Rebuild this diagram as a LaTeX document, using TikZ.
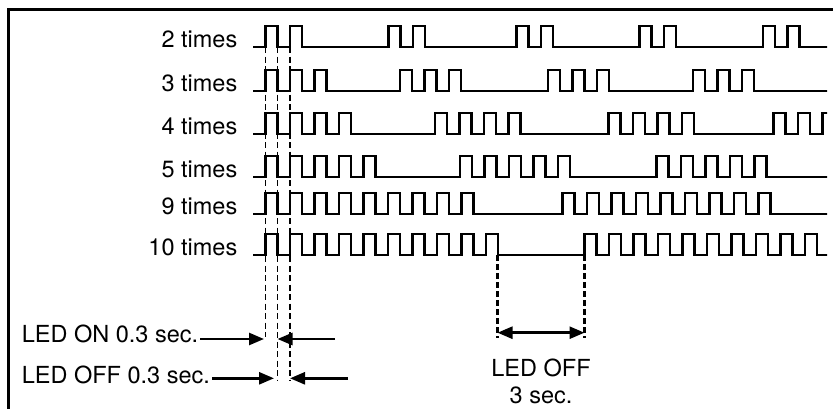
\documentclass[tikz,border=0pt]{standalone}
\usepackage{fontspec}
\setmainfont{TeX Gyre Heros}
\usetikzlibrary{arrows.meta}

\begin{document}
\begin{tikzpicture}[x=1pt,y=-1pt,
	wave/.style={line width=2.4pt},
	guide/.style={line width=1.2pt,dash pattern=on 6pt off 3.5pt},
	guidebold/.style={line width=2.2pt,dash pattern=on 5.5pt off 3.5pt},
	dimarrow/.style={line width=2.6pt,-{Triangle[length=15pt,width=12pt]}},
	lbl/.style={font=\fontsize{23.5}{26.7}\selectfont,inner sep=2pt}]
	\useasboundingbox (0,0) rectangle (833,408);
	\draw[line width=3pt] (8.7,9.8) rectangle (845,420);

	% dashed timing guides
	\coordinate (on) at (265.5,47);
	\coordinate (off) at (277.5,47);
	\coordinate (nxt) at (290,47);
	\draw[guide] (on) -- ++(0,290);
	\draw[guide] (off) -- ++(0,333);
	\draw[guide] (nxt) -- ++(0,333);
	\coordinate (g1) at (497.5,255);
	\coordinate (g2) at (584.5,255);
	\draw[guidebold] (g1) -- ++(0,83);
	\draw[guidebold] (g2) -- ++(0,83);

	% pulse trains
	\foreach \y/\n in {47/2,91/3,134/4,177/5,214/9,255/10}
		\node[lbl,anchor=base east] (row\n) at (239.5,\y) {\n\ times};
	\begin{scope}
		\clip (250,0) rectangle (827,300);
		\foreach \y/\n/\gs in {47/2/{265.5,388.5,516.5,639.5,763},91/3/{265.5,400,548,693},134/4/{265.5,435,608.5,773.5},177/5/{265.5,460,656.5},214/9/{265.5,562.5},255/10/{265.5,584.5}}
			\draw[wave] (253,\y) \foreach \g in \gs {\foreach \k in {1,...,\n} {-- ({\g+(\k-1)*24.5},\y) -- ++(0,-21) -- ++(12,0) -- ++(0,21)}} -- (840,\y);
	\end{scope}

	% durations
	\node[lbl,anchor=base west] (onlbl) at (19.6,342) {LED ON 0.3 sec.};
	\node[lbl,anchor=base west] (offlbl) at (19.6,383.3) {LED OFF 0.3 sec.};
	\coordinate (onA) at (264,339);
	\coordinate (onB) at (277.5,339);
	\coordinate (onC) at (335,339);
	\coordinate (offA) at (274,378.3);
	\coordinate (offB) at (290,378.3);
	\coordinate (offC) at (348,378.3);
	\draw[dimarrow] (onlbl.east |- onA) -- (onA);
	\draw[dimarrow] (onC) -- (onB);
	\draw[dimarrow] (offlbl.east |- offA) -- (offA);
	\draw[dimarrow] (offC) -- (offB);
	\coordinate (a1) at (497.5,332.7);
	\coordinate (a2) at (584.5,332.7);
	\draw[dimarrow,{Triangle[length=15pt,width=12pt]}-{Triangle[length=15pt,width=12pt]}] (a1) -- (a2);
	\node[lbl,align=center,anchor=north,inner sep=0pt] (gaplbl) at (541,359) {LED OFF\\3 sec.};
\end{tikzpicture}
\end{document}
